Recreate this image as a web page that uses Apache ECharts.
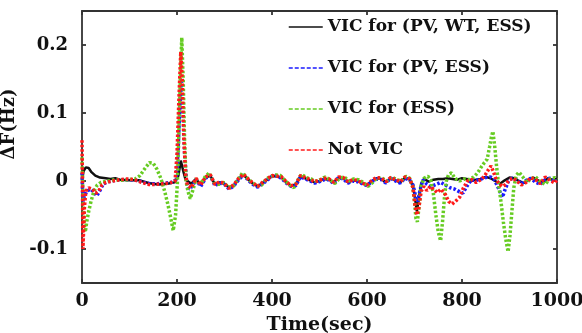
<!DOCTYPE html>
<html>
<head>
<meta charset="utf-8">
<script src="https://cdn.jsdelivr.net/npm/echarts@6/dist/echarts.min.js"></script>
<style>html,body{margin:0;padding:0;background:#fff;}#c{width:582px;height:333px;}</style>
</head>
<body>
<div id="c"></div>
<script>
const seriesNames = ['VIC for (PV, WT, ESS)', 'VIC for (PV, ESS)', 'VIC for (ESS)', 'Not VIC'];
const xTicks = [0, 200, 400, 600, 800, 1000];
const yTicks = [-0.1, 0, 0.1, 0.2];

const blackData = [
[0,0.0],[3,0.014],[8,0.02],[14,0.019],[20,0.013],[28,0.008],[38,0.005],[50,0.004],[60,0.003],[70,0.004],[80,0.002],[100,0.001],[120,0.001],[140,-0.003],[160,-0.005],[180,-0.004],[195,-0.002],[203,0.008],[208,0.03],[213,0.015],[218,0.002],[230,-0.004],
[240,0.003],[250,-0.006],[260,0.005],[270,0.008],[280,-0.005],[290,-0.002],[300,-0.004],[310,-0.010],[320,-0.006],[330,0.003],[340,0.009],[350,0.002],[360,-0.004],[370,-0.008],[380,-0.003],[390,0.002],[400,0.007],[410,0.007],[420,0.005],[430,-0.002],[440,-0.007],[450,-0.005],[460,0.007],[470,0.004],[480,0.001],[490,-0.002],[500,0.0],[510,0.003],[520,0.002],[530,-0.002],[540,0.005],[550,0.004],[560,-0.002],[570,0.001],[580,0.0],[590,-0.003],[600,-0.006],[610,0.0],[620,0.004],[630,0.003],[640,-0.002],[650,0.004],[660,0.001],[670,-0.002],[680,0.005],[690,0.002],
[697,-0.008],[702,-0.03],[705,-0.045],[709,-0.025],[714,-0.004],[720,0.003],[730,-0.001],[740,0.002],[750,0.003],[760,0.003],[770,0.004],[780,0.003],[790,0.002],[800,0.004],[810,0.003],[820,0.0],[830,0.002],[840,0.003],[850,0.006],[860,0.004],[870,0.0],[880,-0.004],[890,0.001],[900,0.005],[910,0.004],[920,0.0],[930,-0.003],[940,0.002],[950,0.005],[960,0.001],[970,-0.003],[980,0.004],[990,0.002],[1000,0.003]
];

const blueData = [
[0,0.012],[2,-0.03],[5,-0.022],[10,-0.015],[18,-0.012],[25,-0.016],[31,-0.022],[37,-0.015],[45,-0.004],[55,-0.001],[70,0.001],[85,0.002],[100,0.002],[115,0.001],[130,-0.002],[145,-0.004],[160,-0.004],[175,-0.003],[190,-0.002],[198,0.002],[202,0.04],[206,0.11],[210,0.15],[213,0.1],[216,0.04],[220,0.0],[225,-0.012],[232,-0.008],
[240,0.002],[250,-0.008],[260,0.004],[270,0.008],[280,-0.007],[290,-0.003],[300,-0.005],[310,-0.012],[320,-0.007],[330,0.002],[340,0.009],[350,0.001],[360,-0.005],[370,-0.009],[380,-0.004],[390,0.001],[400,0.007],[410,0.008],[420,0.004],[430,-0.003],[440,-0.008],[450,-0.007],[460,0.006],[470,0.003],[480,0.0],[490,-0.003],[500,-0.001],[510,0.002],[520,0.002],[530,-0.004],[540,0.005],[550,0.003],[560,-0.003],[570,0.0],[580,-0.001],[590,-0.004],[600,-0.007],[610,-0.001],[620,0.003],[630,0.002],[640,-0.003],[650,0.004],[660,0.0],[670,-0.003],[680,0.004],[690,0.001],
[697,-0.006],[703,-0.025],[707,-0.03],[712,-0.012],[718,0.002],[725,-0.004],[735,-0.008],[745,-0.005],[755,-0.002],[765,-0.006],[775,-0.01],[785,-0.012],[795,-0.016],[802,-0.018],[810,-0.008],[820,0.002],[830,0.001],[840,0.003],[850,0.005],[860,0.006],[868,0.002],[875,-0.008],[880,-0.016],[885,-0.024],[891,-0.012],[898,0.0],[905,0.004],[915,0.002],[925,-0.004],[935,0.001],[945,0.004],[955,-0.002],[965,-0.005],[975,0.002],[985,0.004],[995,-0.001],[1000,0.001]
];

const greenData = [
[0,0.035],[2,-0.02],[4,-0.06],[7,-0.075],[10,-0.06],[14,-0.045],[19,-0.03],[25,-0.015],[32,-0.006],[40,-0.002],[55,0.0],[70,0.002],[85,0.001],[100,0.002],[112,0.003],[122,0.008],[132,0.018],[142,0.027],[150,0.026],[158,0.017],[166,0.004],[174,-0.015],[181,-0.035],[187,-0.055],[192,-0.073],[197,-0.05],[201,0.0],[204,0.07],[207,0.15],[210,0.211],[213,0.15],[216,0.06],[219,0.0],[223,-0.015],[228,-0.026],[234,-0.012],
[240,0.003],[250,-0.004],[260,0.007],[268,0.012],[278,-0.003],[288,-0.005],[298,-0.002],[308,-0.009],[318,-0.008],[328,0.002],[338,0.012],[348,0.004],[358,-0.002],[368,-0.007],[378,-0.006],[388,0.003],[398,0.007],[408,0.009],[418,0.008],[428,0.0],[438,-0.006],[446,-0.01],[455,0.002],[462,0.01],[472,0.005],[482,0.003],[492,0.0],[502,0.002],[512,0.006],[522,0.002],[532,-0.004],[542,0.004],[552,0.006],[562,0.0],[572,0.003],[582,0.002],[592,-0.002],[602,-0.008],[612,-0.002],[622,0.005],[632,0.004],[642,0.0],[652,0.006],[662,0.002],[672,0.0],[682,0.007],[690,0.004],
[696,-0.008],[700,-0.03],[703,-0.055],[706,-0.06],[710,-0.035],[714,-0.008],[720,0.004],[728,0.007],[734,0.002],[740,-0.02],[745,-0.05],[750,-0.075],[755,-0.088],[759,-0.06],[763,-0.025],[767,0.0],[772,0.01],[778,0.012],[785,0.004],[795,0.0],[805,0.003],[815,0.002],[825,0.006],[833,0.012],[840,0.02],[847,0.027],[853,0.032],[858,0.05],[862,0.065],[865,0.073],[869,0.05],[873,0.02],[877,-0.005],[882,-0.03],[887,-0.06],[892,-0.085],[897,-0.104],[901,-0.08],[905,-0.045],[909,-0.01],[914,0.008],[920,0.013],[928,0.006],[936,-0.002],[945,0.003],[955,0.006],[965,-0.001],[975,-0.005],[985,0.003],[995,0.005],[1000,0.002]
];

const redData = [
[0,0.06],[1,0.0],[2,-0.1],[3,-0.08],[5,-0.04],[8,-0.015],[14,-0.01],[22,-0.012],[29,-0.018],[35,-0.015],[42,-0.006],[50,-0.002],[65,0.0],[80,0.002],[95,0.003],[110,0.002],[125,-0.002],[140,-0.005],[155,-0.005],[170,-0.004],[185,-0.003],[196,0.0],[200,0.04],[204,0.12],[208,0.19],[211,0.15],[214,0.07],[218,0.01],[222,-0.006],[230,-0.01],
[240,0.004],[250,-0.006],[260,0.006],[270,0.009],[280,-0.005],[290,-0.001],[300,-0.004],[310,-0.011],[320,-0.005],[330,0.004],[340,0.010],[350,0.003],[360,-0.003],[370,-0.008],[380,-0.002],[390,0.003],[400,0.008],[410,0.007],[420,0.006],[430,-0.001],[440,-0.007],[450,-0.005],[460,0.008],[470,0.005],[480,0.002],[490,-0.001],[500,0.001],[510,0.004],[520,0.003],[530,-0.002],[540,0.006],[550,0.005],[560,-0.001],[570,0.002],[580,0.001],[590,-0.003],[600,-0.006],[610,0.001],[620,0.005],[630,0.004],[640,-0.001],[650,0.005],[660,0.002],[670,-0.001],[680,0.006],[690,0.003],
[697,-0.01],[701,-0.035],[705,-0.05],[709,-0.04],[714,-0.015],[720,-0.008],[726,-0.014],[733,-0.008],[740,-0.012],[748,-0.017],[756,-0.012],[765,-0.02],[772,-0.03],[779,-0.034],[786,-0.03],[795,-0.024],[803,-0.01],[812,0.0],[820,0.002],[830,-0.002],[840,0.002],[848,0.008],[855,0.016],[861,0.022],[866,0.014],[872,0.002],[878,-0.004],[885,-0.008],[892,-0.005],[900,0.002],[908,0.004],[916,0.0],[925,-0.006],[935,-0.002],[945,0.005],[955,0.002],[965,-0.004],[975,0.006],[985,0.001],[995,-0.003],[1000,0.002]
];

const FONT = 'DejaVu Serif';
const chart = echarts.init(document.getElementById('c'), null, {renderer: 'canvas'});
const axisLineStyle = {color: '#333', width: 1.8};
const dotted = [2.5, 2];
const hiddenSymbol = {opacity: 0, borderWidth: 0};

function lineSeries(name, data, color, width, type, z) {
  return {
    name: name, type: 'line', data: data, showSymbol: false, symbol: 'none',
    lineStyle: {color: color, width: width, type: type}, itemStyle: {color: color},
    z: z, animation: false
  };
}

chart.setOption({
  animation: false,
  backgroundColor: '#fff',
  grid: {left: 82, right: 25, top: 11, bottom: 50, containLabel: false, outerBoundsMode: 'none'},
  legend: {
    orient: 'vertical', left: 283, top: 12, itemGap: 21,
    itemWidth: 34, itemHeight: 10, selectedMode: false,
    itemStyle: hiddenSymbol,
    textStyle: {fontFamily: FONT, fontWeight: 'bold', fontSize: 17, color: '#111', lineHeight: 20},
    data: [
      {name: seriesNames[0], itemStyle: hiddenSymbol, lineStyle: {type: 'solid', width: 1.5, color: '#111'}},
      {name: seriesNames[1], itemStyle: hiddenSymbol, lineStyle: {type: [4, 2], width: 1.4, color: '#1a1aff'}},
      {name: seriesNames[2], itemStyle: hiddenSymbol, lineStyle: {type: [4, 2], width: 1.4, color: '#66cc22'}},
      {name: seriesNames[3], itemStyle: hiddenSymbol, lineStyle: {type: [4, 2], width: 1.4, color: '#ff1a1a'}}
    ]
  },
  xAxis: [{
    type: 'value', min: 0, max: 1000, interval: 200, position: 'bottom',
    name: 'Time(sec)', nameLocation: 'middle', nameGap: 30,
    nameTextStyle: {fontFamily: FONT, fontWeight: 'bold', fontSize: 19, color: '#111'},
    axisLine: {show: true, onZero: false, lineStyle: axisLineStyle},
    axisTick: {show: true, inside: true, length: 4, lineStyle: axisLineStyle},
    axisLabel: {fontFamily: FONT, fontWeight: 'bold', fontSize: 19, color: '#111', margin: 9,
      customValues: xTicks, formatter: function (v) { return String(v); }},
    splitLine: {show: false}
  }, {
    type: 'value', min: 0, max: 1000, interval: 200, position: 'top',
    axisLine: {show: true, onZero: false, lineStyle: axisLineStyle},
    axisTick: {show: true, inside: true, length: 4, lineStyle: axisLineStyle},
    axisLabel: {show: false}, splitLine: {show: false}
  }],
  yAxis: [{
    type: 'value', min: -0.15, max: 0.25, position: 'left',
    name: 'ΔF(Hz)', nameLocation: 'middle', nameGap: 52, nameRotate: 90,
    nameTextStyle: {fontFamily: FONT, fontWeight: 'bold', fontSize: 18, color: '#111', padding: [0, 0, 0, 46]},
    axisLine: {show: true, onZero: false, lineStyle: axisLineStyle},
    axisTick: {show: true, inside: true, length: 4, lineStyle: axisLineStyle, customValues: yTicks},
    axisLabel: {fontFamily: FONT, fontWeight: 'bold', fontSize: 18, color: '#111', margin: 14,
      customValues: yTicks, formatter: function (v) { return String(Math.round(v * 10) / 10); }},
    splitLine: {show: false}
  }, {
    type: 'value', min: -0.15, max: 0.25, position: 'right',
    axisLine: {show: true, onZero: false, lineStyle: axisLineStyle},
    axisTick: {show: true, inside: true, length: 4, lineStyle: axisLineStyle, customValues: yTicks},
    axisLabel: {show: false}, splitLine: {show: false}
  }],
  series: [
    lineSeries(seriesNames[0], blackData, '#111111', 2.5, 'solid', 5),
    lineSeries(seriesNames[1], blueData, '#1a1aff', 3.5, dotted, 6),
    lineSeries(seriesNames[2], greenData, '#66cc22', 3.5, dotted, 7),
    lineSeries(seriesNames[3], redData, '#ff1a1a', 3.5, dotted, 8)
  ]
});
</script>
</body>
</html>
